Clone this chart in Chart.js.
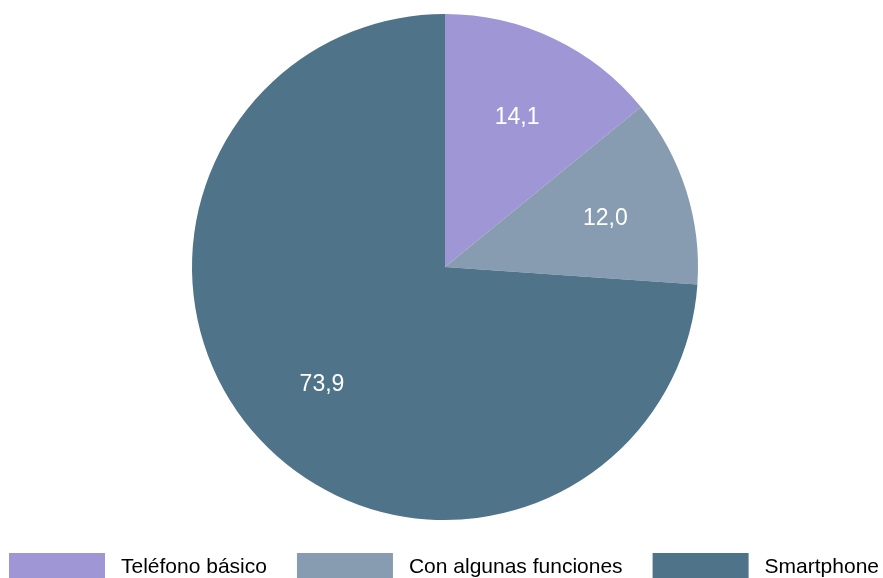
<!DOCTYPE html>
<html lang="es">
<head>
  <meta charset="utf-8"/>
  <title>Tipo de teléfono móvil</title>
  <script src="https://cdn.jsdelivr.net/npm/chart.js@4.4.0/dist/chart.umd.min.js"></script>
  <style>
    html, body { margin: 0; padding: 0; background: #fff; }
    #wrap { width: 883px; height: 578px; }
  </style>
</head>
<body>
<div id="wrap"><canvas id="pie" width="883" height="578"></canvas></div>
<script>
const categories = ["Teléfono básico", "Con algunas funciones", "Smartphone"];
const shares = [14.1, 12.0, 73.9];
const colors = ["#9e96d5", "#879cb0", "#4f7389"];

const FONT = "'Liberation Sans', Arial, sans-serif";

// white value labels inside each slice
const sliceLabels = {
  id: "sliceLabels",
  afterDatasetsDraw(chart) {
    const ctx = chart.ctx;
    const meta = chart.getDatasetMeta(0);
    ctx.save();
    ctx.fillStyle = "#ffffff";
    ctx.font = "23px " + FONT;
    ctx.textAlign = "center";
    ctx.textBaseline = "middle";
    meta.data.forEach((arc, i) => {
      const mid = (arc.startAngle + arc.endAngle) / 2;
      const r = arc.outerRadius * 0.665;
      const x = arc.x + Math.cos(mid) * r;
      const y = arc.y + Math.sin(mid) * r + 3;
      ctx.fillText(shares[i].toFixed(1).replace(".", ","), x, y);
    });
    ctx.restore();
  }
};

// legend along the bottom: wide boxes, text to the right
const bottomLegend = {
  id: "bottomLegend",
  afterDraw(chart) {
    const ctx = chart.ctx;
    const boxW = 96, boxH = 26, gapText = 16, gapItem = 30;
    const top = 553;
    ctx.save();
    ctx.font = "21px " + FONT;
    const widths = categories.map(c => ctx.measureText(c).width);
    let total = 0;
    widths.forEach((w, i) => { total += boxW + gapText + w + (i < widths.length - 1 ? gapItem : 0); });
    let x = 444 - total / 2;
    ctx.textBaseline = "middle";
    ctx.textAlign = "left";
    categories.forEach((c, i) => {
      ctx.fillStyle = colors[i];
      ctx.fillRect(x, top, boxW, boxH);
      ctx.fillStyle = "#000000";
      ctx.fillText(c, x + boxW + gapText, top + 14);
      x += boxW + gapText + widths[i] + gapItem;
    });
    ctx.restore();
  }
};

new Chart(document.getElementById("pie"), {
  type: "pie",
  data: {
    labels: categories,
    datasets: [{
      data: shares,
      backgroundColor: colors,
      borderWidth: 0
    }]
  },
  options: {
    responsive: false,
    animation: false,
    layout: { padding: { top: 14, bottom: 58, left: 7, right: 0 } },
    plugins: {
      legend: { display: false },
      tooltip: { enabled: false }
    }
  },
  plugins: [sliceLabels, bottomLegend]
});
</script>
</body>
</html>
